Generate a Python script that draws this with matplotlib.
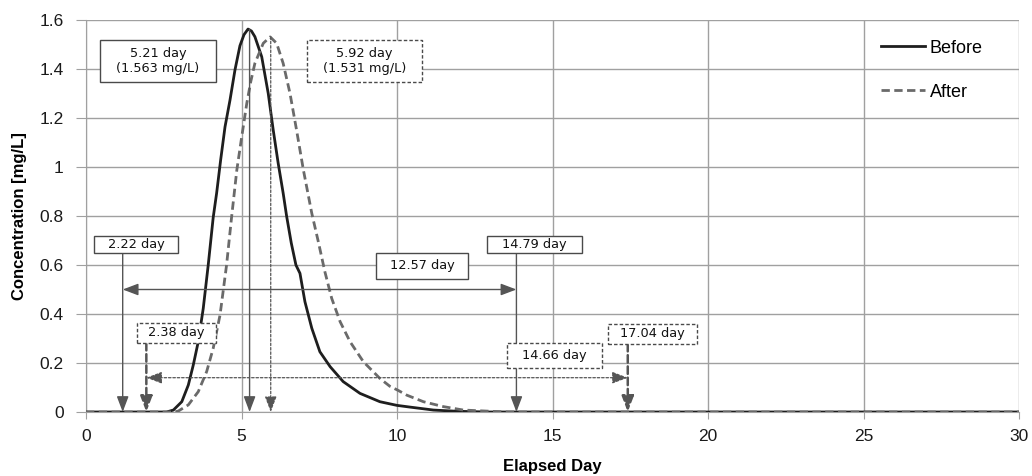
import matplotlib
matplotlib.use("Agg")
import matplotlib.pyplot as plt
from matplotlib.patches import Rectangle

# Data
before_x = [0, 2.59, 2.81, 3.08, 3.29, 3.45, 3.61, 3.77, 3.93, 4.09, 4.20, 4.33, 4.47, 4.63, 4.79, 4.95,
            5.08, 5.21, 5.32, 5.43, 5.65, 5.86, 6.02, 6.18, 6.34, 6.45, 6.60, 6.75, 6.88, 7.04, 7.26,
            7.52, 7.85, 8.27, 8.81, 9.45, 10.0, 10.42, 11.17, 11.92, 12.9, 30]
before_y = [0, 0, 0.008, 0.042, 0.110, 0.192, 0.287, 0.423, 0.60, 0.794, 0.893, 1.029, 1.164, 1.273,
            1.396, 1.495, 1.540, 1.563, 1.555, 1.532, 1.450, 1.30, 1.151, 1.015, 0.893, 0.80, 0.69,
            0.60, 0.566, 0.45, 0.342, 0.246, 0.185, 0.124, 0.076, 0.042, 0.027, 0.020, 0.008, 0.003, 0, 0]
after_x = [0, 2.85, 2.97, 3.29, 3.61, 3.88, 4.09, 4.31, 4.52, 4.68, 4.85, 4.98, 5.17, 5.30, 5.43, 5.70,
           5.92, 6.13, 6.34, 6.56, 6.77, 6.99, 7.26, 7.47, 7.68, 7.90, 8.17, 8.49, 8.92, 9.45, 9.77,
           10.04, 10.31, 10.85, 11.49, 12.13, 13.0, 13.6, 30]
after_y = [0, 0, 0.004, 0.029, 0.083, 0.165, 0.26, 0.396, 0.60, 0.794, 0.988, 1.10, 1.26, 1.35, 1.423,
           1.505, 1.531, 1.505, 1.423, 1.30, 1.151, 0.988, 0.811, 0.695, 0.573, 0.464, 0.369, 0.287,
           0.205, 0.137, 0.105, 0.088, 0.069, 0.042, 0.022, 0.008, 0.003, 0, 0]

x_ticks = [0, 5, 10, 15, 20, 25, 30]
y_ticks = [0, 0.2, 0.4, 0.6, 0.8, 1.0, 1.2, 1.4, 1.6]
y_tick_labels = ["0", "0.2", "0.4", "0.6", "0.8", "1", "1.2", "1.4", "1.6"]

# Annotation labels and the positions where their markers are drawn
peak_labels = ["5.21 day\n(1.563 mg/L)", "5.92 day\n(1.531 mg/L)"]
peak_x = [5.26, 5.94]
peak_y = [1.563, 1.531]
before_range_labels = ["2.22 day", "14.79 day", "12.57 day"]
before_range_x = [1.18, 13.84]
after_range_labels = ["2.38 day", "17.04 day", "14.66 day"]
after_range_x = [1.94, 17.42]

fig = plt.figure(figsize=(10.32, 4.76), dpi=100)
ax = fig.add_axes([86/1032, 1 - 412/476, (1019-86)/1032, (412-20)/476])

grid_c = "#a0a0a0"
ax.set_xlim(0, 30)
ax.set_ylim(0, 1.6)
ax.set_xticks(x_ticks)
ax.set_yticks(y_ticks)
ax.set_yticklabels(y_tick_labels)
ax.grid(True, color=grid_c, linewidth=1.0)
ax.set_axisbelow(True)
for s in ["top", "right"]:
    ax.spines[s].set_visible(False)
for s in ["left", "bottom"]:
    ax.spines[s].set_color(grid_c)
ax.tick_params(axis="y", colors=grid_c, labelcolor="#1a1a1a", labelsize=12.5, length=7, pad=9)
ax.tick_params(axis="x", colors=grid_c, labelcolor="#1a1a1a", labelsize=12.5, length=5, pad=7)
for lab in ax.get_xticklabels() + ax.get_yticklabels():
    lab.set_fontfamily("Liberation Sans")

ax.plot(before_x, before_y, color="#1e1e1e", lw=2.0, label="Before", zorder=4)
ax.plot(after_x, after_y, color="#6a6a6a", lw=2.0, ls=(0, (3, 1.6)), label="After", zorder=4)

ax.legend(loc="upper left", bbox_to_anchor=(0.852, 0.95), frameon=False,
          prop={"family": "Liberation Sans", "size": 13},
          handlelength=2.45, handletextpad=0.25, labelspacing=1.5, borderpad=0, borderaxespad=0)

arrow_c = "#555555"
box_font = {"family": "DejaVu Sans", "size": 9.3, "color": "#111111"}
dash_box = (0, (2.5, 1.5))

def vline_arrow(x, y0, ls="-", lw=1.0):
    ax.annotate("", xy=(x, 0.0), xytext=(x, y0),
                arrowprops=dict(arrowstyle="-|>,head_length=0.95,head_width=0.36", color=arrow_c,
                                lw=lw, linestyle=ls, shrinkA=0, shrinkB=0), zorder=5)

def box(x0, x1, y0, y1, text, ls="-"):
    ax.add_patch(Rectangle((x0, y0), x1 - x0, y1 - y0, fc="white", ec="#4a4a4a", lw=1.0,
                           linestyle=ls, zorder=6))
    ax.text((x0 + x1) / 2, (y0 + y1) / 2, text, ha="center", va="center", fontdict=box_font,
            linespacing=1.25, zorder=7)

# peak markers
vline_arrow(peak_x[0], peak_y[0], ls="-", lw=1.0)
vline_arrow(peak_x[1], peak_y[1], ls=(0, (2, 1.5)), lw=0.9)
box(0.45, 4.18, 1.347, 1.518, peak_labels[0], "-")
box(7.11, 10.80, 1.347, 1.518, peak_labels[1], dash_box)

# Before range
vline_arrow(before_range_x[0], 0.649, ls="-", lw=1.0)
vline_arrow(before_range_x[1], 0.649, ls="-", lw=1.0)
ax.annotate("", xy=(before_range_x[0], 0.50), xytext=(before_range_x[1], 0.50),
            arrowprops=dict(arrowstyle="<|-|>,head_length=0.95,head_width=0.36", color=arrow_c, lw=1.0,
                            shrinkA=0, shrinkB=0), zorder=5)
box(0.26, 2.96, 0.649, 0.718, before_range_labels[0])
box(12.89, 15.95, 0.649, 0.718, before_range_labels[1])
box(9.32, 12.28, 0.543, 0.649, before_range_labels[2])

# After range
vline_arrow(after_range_x[0], 0.282, ls=(0, (3, 1.5)), lw=1.8)
vline_arrow(after_range_x[1], 0.278, ls=(0, (3, 1.5)), lw=1.8)
ax.annotate("", xy=(after_range_x[0], 0.14), xytext=(after_range_x[1], 0.14),
            arrowprops=dict(arrowstyle="<|-|>,head_length=0.95,head_width=0.36", color=arrow_c, lw=0.9,
                            linestyle=(0, (2, 1.5)), shrinkA=0, shrinkB=0), zorder=5)
box(1.64, 4.18, 0.282, 0.363, after_range_labels[0], dash_box)
box(16.78, 19.64, 0.278, 0.359, after_range_labels[1], dash_box)
box(13.54, 16.59, 0.180, 0.282, after_range_labels[2], dash_box)

ax.set_xlabel("Elapsed Day", fontsize=12, fontweight="bold", family="Liberation Sans", labelpad=11)
ax.set_ylabel("Concentration [mg/L]", fontsize=12, fontweight="bold", family="Liberation Sans", labelpad=9)

fig.savefig("out.png", dpi=100)
